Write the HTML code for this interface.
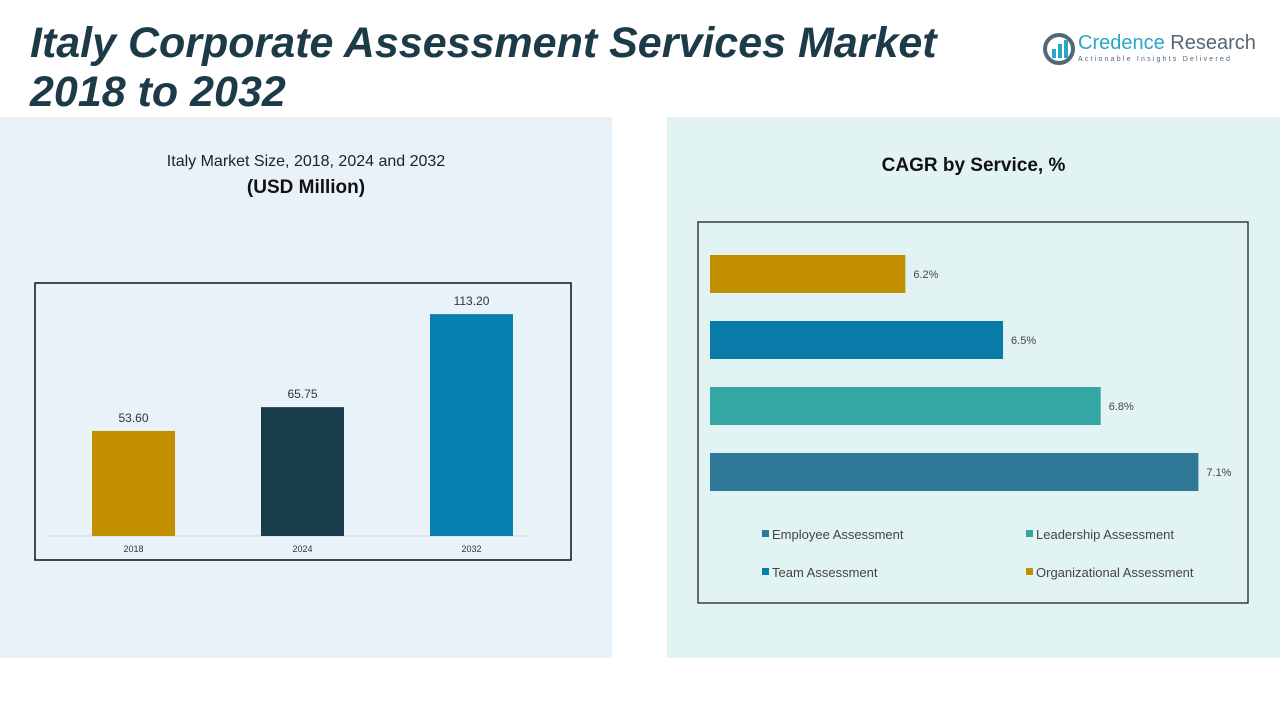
<!DOCTYPE html>
<html><head><meta charset="utf-8"><style>
body{margin:0;width:1280px;height:720px;background:#fff;position:relative;overflow:hidden;font-family:"Liberation Sans",sans-serif}
.abs{position:absolute}
</style></head><body>
<div class="abs" style="left:0;top:117px;width:612px;height:541px;background:#e9f2f9"></div>
<div class="abs" style="left:667px;top:117px;width:613px;height:541px;background:#e2f3f3"></div>
<div class="abs" style="left:30px;top:19px;font-size:43px;font-weight:bold;font-style:italic;color:#1c3a48;line-height:49px;white-space:nowrap">Italy Corporate Assessment Services Market<br>2018 to 2032</div>
<div class="abs" style="left:1040px;top:32px;width:230px;height:40px">
<svg width="34" height="34" style="position:absolute;left:2px;top:0"><circle cx="17" cy="17" r="14" fill="none" stroke="#50687a" stroke-width="4"/><rect x="10" y="17" width="4" height="9" fill="#2aa6c6"/><rect x="16" y="12" width="4" height="14" fill="#2aa6c6"/><rect x="22" y="8" width="4" height="18" fill="#2aa6c6"/></svg>
<div class="abs" style="left:38px;top:0;font-size:20px;color:#2aa6c6;white-space:nowrap">Credence <span style="color:#50687a">Research</span></div>
<div class="abs" style="left:38px;top:24px;font-size:7px;letter-spacing:2.2px;color:#50687a;white-space:nowrap">Actionable Insights Delivered</div>
</div>
<div class="abs" style="left:0;width:612px;top:153px;text-align:center;font-size:16px;color:#222">Italy Market Size, 2018, 2024 and 2032</div>
<div class="abs" style="left:0;width:612px;top:177px;text-align:center;font-size:19px;font-weight:bold;color:#111">(USD Million)</div>
<div class="abs" style="left:667px;width:613px;top:155px;text-align:center;font-size:19px;font-weight:bold;color:#111">CAGR by Service, %</div>
<svg id="c" class="abs" style="left:0;top:0" width="1280" height="720"></svg>
<script>
const years=["2018","2024","2032"];
const sizes=[53.60,65.75,113.20];
const yearColors=["#c18f00","#193c4b","#0681b1"];
const services=["Organizational Assessment","Team Assessment","Leadership Assessment","Employee Assessment"];
const cagr=[6.2,6.5,6.8,7.1];
const serviceColors=["#c18f00","#0a7aa8","#34a6a4","#2f7898"];
const cagrLabels=["6.2%","6.5%","6.8%","7.1%"];
const NS="http://www.w3.org/2000/svg";
const svg=document.getElementById('c');
function mk(t,a,txt){const e=document.createElementNS(NS,t);for(const k in a)e.setAttribute(k,a[k]);if(txt!==undefined)e.textContent=txt;svg.appendChild(e);return e;}
let b=mk('rect',{x:35,y:283,width:536,height:277,fill:'none',stroke:'#111','stroke-width':1.5});


let base=mk('line',{x1:48,x2:530,y1:536,y2:536,stroke:'#cfd6dc'});


const yS=v=>536-v*1.96;
const xC=i=>133.5+i*169;
years.forEach((y,i)=>{
 let r=mk('rect',{x:xC(i)-41.5,y:yS(sizes[i]),width:83,height:536-yS(sizes[i]),fill:yearColors[i]});
 
 
 let l=mk('text',{x:xC(i),y:yS(sizes[i])-9,'text-anchor':'middle','font-size':12,fill:'#333'},sizes[i].toFixed(2));
 
 
 let t=mk('text',{x:xC(i),y:552,'text-anchor':'middle','font-size':9,fill:'#333'},y);
 
 
});
let f=mk('rect',{x:698,y:222,width:550,height:381,fill:'none',stroke:'#111','stroke-width':1.2});


const xS=v=>710+(v-5.6)*325.6;
services.forEach((s,i)=>{
 const y=255+i*66;
 let r=mk('rect',{x:710,y:y,width:xS(cagr[i])-710,height:38,fill:serviceColors[i]});
 
 
 let l=mk('text',{x:xS(cagr[i])+8,y:y+23,'font-size':11,fill:'#444'},cagrLabels[i]);
 
 
});
const leg=[[3,762,535],[2,1026,535],[1,762,573],[0,1026,573]];
leg.forEach(([i,x,y])=>{
 let sq=mk('rect',{x:x,y:y-5,width:7,height:7,fill:serviceColors[i]});
 
 
 let t=mk('text',{x:x+10,y:y+4,'font-size':13,fill:'#444'},services[i]);
 
 
});
</script>
</body></html>
